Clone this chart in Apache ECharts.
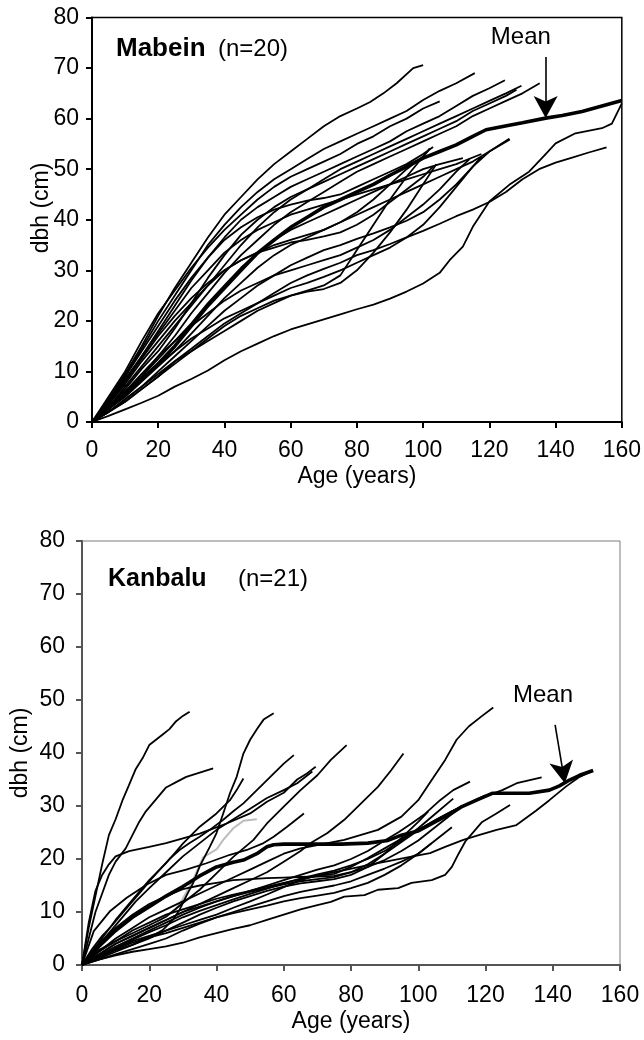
<!DOCTYPE html>
<html><head><meta charset="utf-8">
<script src="https://cdn.jsdelivr.net/npm/echarts/dist/echarts.min.js"></script>
<style>html,body{margin:0;padding:0;background:#fff}#c{width:644px;height:1040px}</style>
</head><body><div id="c"></div>
<script>
// ---------- Mabein (n=20): [age, dbh] ----------
const mab01 = [[0,0],[2,1.8],[5,4.5],[10,9.5],[15,15],[20,21],[25,26.5],[30,31.5],[35,36.5],[40,41],[45,44.5],[50,48],[55,51],[60,53.5],[65,56],[70,58.5],[75,60.5],[80,62],[84,63.3],[88,65],[92,67],[97,70],[100,70.6]];
const mab02 = [[0,0],[5,4],[10,9],[15,14.5],[20,20],[25,25],[30,30],[35,35],[40,39],[45,42.5],[50,45.5],[55,48],[60,50],[65,52],[70,54],[75,55.5],[80,57],[85,58.5],[90,60],[95,61.5],[100,63.7],[105,65.5],[110,67],[115.6,69]];
const mab03 = [[0,0],[5,5],[10,10],[15,16],[20,21.5],[25,26],[30,30.5],[35,34.5],[40,38],[45,41],[50,44],[55,46.5],[60,48.5],[65,50],[70,51.5],[75,53],[80,55],[85,56.5],[90,58.5],[95,60],[100,62],[105,63.4]];
const mab04 = [[0,0],[5,3.5],[10,8],[15,13],[20,18],[25,23],[30,28],[35,32.5],[40,36.5],[45,40],[50,42.5],[55,44.5],[60,46.5],[65,48],[70,49.5],[75,51],[80,52.5],[85,54],[90,55.5],[95,57.5],[100,59],[105,60.5],[110,62.5],[115,64.5],[120,66],[124.7,67.6]];
const mab05 = [[0,0],[5,3],[10,7],[15,11],[20,15],[25,19],[30,23],[35,27],[40,31],[45,35],[50,38.5],[55,41.5],[60,44],[65,46],[70,48],[75,50],[80,51.5],[85,53],[90,54.5],[95,56],[100,57.5],[105,59],[110,60.5],[115,62],[120,63.5],[125,65],[129.7,66.5]];
const mab06 = [[0,0],[5,3],[10,6.5],[15,10.5],[20,14],[25,18.5],[30,23.5],[35,28.5],[40,33],[45,37],[50,40],[55,42.5],[60,44.5],[65,46],[70,47.5],[75,49],[80,50.5],[85,52],[90,53.5],[95,55],[100,56.5],[105,58],[110,59.5],[115,61.5],[120,63],[125,64.5],[128.2,65.7]];
const mab07 = [[0,0],[5,2.5],[10,5.5],[15,9],[20,13],[25,17],[30,21.5],[35,25.5],[40,29.5],[45,33],[50,36],[55,39],[60,41.5],[65,43.5],[70,45.5],[75,47.5],[80,49.5],[85,51],[90,52.5],[95,54],[100,55.5],[105,57],[110,58.5],[115,60.5],[120,62],[125,63.5],[130,65],[135.2,67]];
const mab08 = [[0,0],[5,2],[10,4.5],[15,7],[20,9.5],[25,12],[30,14],[35,16],[40,18],[45,20],[50,22],[55,23.5],[60,25],[65,26],[70,27],[75,29],[80,34],[85,39],[90,44],[95,48.5],[100,52.5],[102,54.1]];
const mab09 = [[0,0],[5,4],[10,8.5],[15,13],[20,17.5],[25,22],[30,26.5],[35,30],[40,33.5],[45,36],[50,38],[55,39.5],[60,41],[65,42],[70,43],[75,44],[80,45],[85,46],[90,47],[95,48],[100,49],[105,50],[110,51],[117.6,53]];
const mab10 = [[0,0],[5,3],[10,6],[15,9],[20,12.5],[25,16],[30,19.5],[35,23.5],[40,27],[45,30.5],[50,33.5],[55,36],[60,38],[65,39.5],[70,41],[75,42.5],[80,44],[85,45.5],[90,47],[95,48.5],[100,50],[105,51],[112,52.2]];
const mab11 = [[0,0],[5,2.5],[10,5],[15,8],[20,11],[25,14],[30,17.5],[35,21],[40,24.5],[45,27.5],[50,30.5],[55,33],[60,35],[65,36.5],[70,38],[75,39.5],[80,41],[85,42.5],[90,44],[95,45.5],[100,47],[105,48.5],[110,50],[115,51.5],[120,53.5],[126.2,55.9]];
const mab12 = [[0,0],[5,2],[10,4],[15,6.5],[20,9],[25,12],[30,14.5],[35,17],[40,19.5],[45,21.5],[50,23.5],[55,25.5],[60,27.5],[65,29],[70,30.3],[75,31.5],[80,33],[85,34],[90,35.2],[95,36.5],[100,37.8],[105,39.2],[110,40.7],[115,42],[120,43.5],[125,45.5],[130,48],[135,50],[140,51.3],[145,52.3],[150,53.3],[155.4,54.3]];
const mab13 = [[0,0],[5,1.2],[10,2.5],[15,3.8],[20,5.2],[25,7],[30,8.5],[35,10.2],[40,12.2],[45,14],[50,15.5],[55,17],[60,18.3],[65,19.3],[70,20.3],[75,21.3],[80,22.3],[85,23.2],[90,24.4],[95,25.8],[100,27.4],[105,29.5],[108,32],[112,34.7],[115,38.6],[120,43.6],[126,46.9],[132,49.5],[137,53],[140,55.1],[146,57.1],[154,58.1],[157,59],[160,63]];
const mab14 = [[0,0],[5,3.5],[10,7.5],[15,12],[20,16],[25,20],[30,23.5],[35,27],[40,30],[45,32],[50,33.5],[55,34.5],[60,35.5],[65,36],[70,36.7],[75,37.5],[80,39],[85,41],[90,43.5],[95,46],[100,48.5],[103,50.5]];
const mab15 = [[0,0],[5,2],[10,4.5],[15,7],[20,10],[25,13],[30,16],[35,19],[40,22],[45,24.5],[50,27],[55,29],[60,31],[65,32.5],[70,34],[75,35],[80,36.2],[85,37.3],[90,38.5],[95,39.8],[100,41.5],[105,44],[110,47],[115,50.5],[120,53.5],[126,56]];
const mab16 = [[0,0],[5,4],[10,9],[15,14],[20,19],[25,24],[30,28.5],[35,32.5],[40,36],[45,38.5],[50,40.5],[55,42],[60,43],[65,43.8],[70,44.3],[75,45],[80,46.5],[85,48],[90,49.5],[95,51],[100,53],[103,54.4]];
const mab17 = [[0,0],[5,3],[10,6],[15,9.5],[20,13],[25,16],[30,19],[35,21.5],[40,24],[45,26],[50,27.5],[55,29],[60,30],[65,31],[70,32],[75,33],[80,34.5],[85,36],[90,38],[95,40.5],[100,43],[105,46],[110,49.5],[114,52]];
const mab18 = [[0,0],[5,2.5],[10,5.5],[15,8.5],[20,11.5],[25,14],[30,16.5],[35,18.5],[40,20.5],[45,22],[50,23.5],[55,25],[60,26.5],[65,27.5],[70,28.7],[75,30],[80,31.5],[85,33],[90,34.5],[95,36.5],[100,39],[105,42.5],[110,46.5],[115,50.5],[117.6,52.5]];
const mab19 = [[0,0],[5,2],[10,4],[15,6.5],[20,9],[25,11.5],[30,14],[35,16.5],[40,19],[45,21],[50,22.5],[55,24],[60,25],[65,25.8],[70,26.3],[75,27.5],[80,30],[85,33.5],[90,37.5],[95,42],[100,47],[104,51]];
const mab20 = [[0,0],[5,4],[10,8],[15,12.5],[20,17],[25,21],[30,24.5],[35,27.5],[40,30],[45,32],[50,33.5],[55,35],[60,36],[65,37],[70,38],[75,39.5],[80,41.5],[85,44],[90,47],[95,50],[100,52.5],[102,54]];
const mabMean = [[0,0],[5,2.8],[10,5.5],[15,8.5],[20,11.5],[25,15],[30,19],[35,23],[40,26.5],[45,30],[50,33.4],[55,36],[60,38.5],[65,40.5],[70,42.5],[75,44],[80,45.5],[85,47],[90,48.8],[95,50.5],[100,52.2],[105,53.5],[110,54.8],[115,56.5],[119,57.8],[126,58.7],[130,59.2],[137,60.1],[142,60.6],[148,61.4],[154,62.5],[160,63.6]];
const mabArrow = [[137,72.2],[137,60.1]];
const mabMeanText = [129.5,76.1];

// ---------- Kanbalu (n=21): [age, dbh] ----------
const kan01 = [[0,0],[2,7],[4,13],[6,19],[8,24.5],[10,27.5],[12,31],[14,34],[16,37],[18,39],[20,41.5],[22,42.5],[24,43.5],[26,44.5],[28,46],[30,47],[32,47.8]];
const kan02 = [[0,0],[2,5],[4,10],[6,13.5],[8,17],[10,19.5],[13,22],[15,24.5],[17,27],[19,29],[21,30.5],[23,32],[25,33.5],[28,34.5],[31,35.5],[35,36.3],[39,37.1]];
const kan03 = [[0,0],[2,8],[4,14],[6,17],[8,19],[10,20.5],[14,21.5],[20,22.3],[25,23],[30,23.9],[35,24.8],[38,25.5],[43,26.7],[50,28.6],[55,30.8],[60,32.5],[64,35],[67,36.2],[69.5,37.4]];
const kan04 = [[0,0],[5,1.5],[10,2.8],[15,3.8],[18,4.7],[21,5.5],[24,6.6],[27,8.5],[29,10.4],[31,13],[33,15.4],[35,18.6],[38,22.3],[40,24.9],[42,28.6],[44,32.4],[46,35.5],[48,39.9],[50,42.5],[52,44.5],[54,46.3],[57,47.5]];
const kan05 = [[0,0],[3,3],[6,5.5],[9,7.5],[12,9.8],[15,12],[18,14.2],[21,16.5],[23,17.9],[26,20],[29,21.7],[32,23],[35,24.2],[38,25.5],[42,27.4],[45,29],[48,30.5],[52,33],[56,35.5],[60,38],[63,39.6]];
const kan06 = [[0,0],[5,4.2],[10,8.5],[15,12.3],[20,16],[25,19.2],[30,22.9],[35,26.1],[40,28.6],[44,31.1],[46,33],[48,35.2]];
const kan07 = [[0,0],[3.5,6.4],[8.4,10.2],[13.3,12.7],[19.3,15.2],[25,17],[31,18],[37,19.2],[44,20.8],[49,21.7],[54,23],[57,24.2],[61,26.1],[66,28.6]];
const kan08 = [[0,0],[4,3],[8,6],[12,9],[16,12],[20,14.5],[25,17.5],[30,20.5],[35,23],[40,25.5],[45,27.5],[50,29.5],[55,31.5],[60,33],[64,34.3],[68.5,36.5]];
const kan09 = [[0,0],[5,2.8],[10,4.5],[15,6],[20,7.5],[25,9.1],[30,11.7],[35,14.2],[40,17.3],[45,20.4],[51,23.6],[55,26.7],[60,29.9],[65,33],[70,35.8],[74,38.7],[78.7,41.5]];
const kan10 = [[0,0],[5,2],[10,4],[15,5.5],[20,7],[25,8.5],[30,10],[35,11.5],[40,13],[45,14.5],[50,16],[55,17.5],[60,19.5],[65,21.5],[68,23],[73,24.9],[78,27.4],[83,30.5],[88,33.6],[92,36.8],[95.6,39.9]];
const kan11 = [[0,0],[5,2],[10,4],[15,5.5],[20,7],[25,8.5],[30,10],[35,11],[40,12],[45,13],[50,14],[55,15],[60,16],[65,17],[70,18],[75,18.8],[80,20],[85,21.5],[90,23.5],[94,25],[98,26.7],[102,28.5],[106.5,31.1],[110.4,33],[115.4,34.6]];
const kan12 = [[0,0],[5,1.5],[10,3.2],[15,4.8],[20,6.2],[25,7.5],[30,9],[35,10.2],[40,11.3],[45,12.4],[50,13.4],[55,14.4],[60,15.4],[65,16.3],[70,17.1],[75,17.8],[80,18.8],[85,20],[90,21.5],[95,23.5],[100,25.8],[105,28.5],[110.4,31.4]];
const kan13 = [[0,0],[5,1],[10,1.8],[15,2.5],[20,3],[25,3.5],[30,4.2],[35,5.2],[40,6],[45,6.8],[50,7.5],[55,8.5],[60,9.5],[65,10.5],[70,11.3],[74,11.9],[78,12.9],[84,13.2],[88,14.2],[94,14.5],[98,15.5],[104,16],[108,17],[110,18.5],[112,21],[114,23.3],[116,24.8],[119,27],[123,28.5],[127.3,30.2]];
const kan14 = [[0,0],[5,2.5],[10,4.5],[15,6.5],[20,8],[25,9.5],[30,10.5],[35,11.5],[40,12.5],[45,13.3],[50,14],[55,14.8],[60,15.5],[65,16.2],[70,16.8],[75,17.2],[80,18.5],[85,20.2],[90,22],[95,23.8],[100,25.5],[105,27.3],[110,29],[115,30.5],[120,31.8],[125,33],[129.3,34.3],[136.7,35.4]];
const kan15 = [[0,0],[5,2.5],[10,5],[15,7],[20,9],[25,10.5],[30,12],[35,13.5],[40,15],[45,16.5],[50,18],[55,19.5],[60,21],[65,22],[70,22.6],[78,23.6],[88,25.5],[95,28],[100,31.1],[104,34.9],[108,38.7],[111.4,42.5],[115,45],[119,47],[122.3,48.6]];
const kan16 = [[0,0],[5,1.5],[10,3],[15,4.5],[20,5.5],[25,6.5],[30,7.5],[35,8.5],[40,9.5],[45,10.8],[50,12],[55,13.3],[60,14.7],[65,16],[70,16.9],[78,17.9],[88,19.2],[97.6,20.4],[103.5,21.1],[108,22.3],[113.4,23.6],[118,24.5],[123.3,25.5],[129.2,26.4],[135,29.1],[139,31.1],[144,33.7],[148,35.5],[152,36.7]];
const kan17 = [[0,0],[5,1.8],[10,3.5],[15,5],[20,6.5],[25,8],[30,9.5],[35,10.8],[40,12],[45,13],[50,13.8],[55,14.5],[60,15.2],[65,15.8],[70,16.2],[75,16.6],[80,17.5],[85,19],[90,21],[95,23.2],[100,25.4],[105,27.3],[110,29],[115,30.5],[120,32]];
const kan18 = [[0,0],[5,1.2],[10,2.5],[15,3.8],[20,5],[25,6.5],[30,8],[35,9.5],[40,10.8],[45,12],[50,13],[55,14],[60,14.8],[65,15.4],[70,15.8],[75,16.2],[80,17],[85,18.5],[90,21],[95,24],[100,27],[103,29]];
const kan19 = [[0,0],[5,1],[10,2],[15,3],[20,4],[25,5],[30,6.5],[35,7.8],[40,9],[45,10],[50,11],[55,12],[60,13],[65,13.8],[70,14.4],[75,15],[80,15.8],[85,17],[90,18.2],[95,19.5],[100,21],[105,23.5],[110,26]];
const kan20 = [[0,0],[5,1.5],[10,3],[15,4.2],[20,5.2],[25,6],[30,7],[35,8],[40,9],[45,9.8],[50,10.5],[55,11.2],[60,12],[65,12.6],[70,13.1],[75,13.6],[80,14.5],[85,15.5],[90,17],[95,18.8],[100,21],[104,23]];
const kan21 = [[0,0],[5,4],[10,7],[15,9.5],[20,11.5],[25,13],[30,14.3],[35,15],[40,15.5],[45,16],[50,16.2],[55,16.4],[60,16.5],[65,16.6],[70,16.7],[75,16.8],[80,17.5],[85,18.5],[90,19.8],[95,21.5],[100,23.5],[105,26],[110,28.5],[113,30]];
const kanGray = [[0,0],[10,3],[20,6.5],[25,9.3],[28,10.5],[30,12.5],[33,16],[36,20.3],[40,21.8],[42,23.6],[45,25.8],[48,27.2],[52,27.5]];
const kanMean = [[0,0],[5,3.5],[10,6.5],[15,9],[20,11],[25,13],[30,14.8],[35,16.8],[40,18.5],[45,19.4],[48,19.8],[52,21],[55,22.3],[57,22.7],[60,22.8],[70,22.8],[77,22.8],[85,23],[91,23.5],[95,24.5],[100,25.3],[105,27],[110,28.7],[113,29.9],[118,31.3],[122,32.4],[128,32.4],[133,32.4],[139,33],[142,33.8],[145,34.9],[148,35.8],[152,36.7]];
const kanArrow = [[140.7,45.3],[143.6,34.3]];
const kanMeanText = [137.1,50.8];

const xTicks = {min:0, max:160, interval:20};
const yTicks = {min:0, max:80, interval:10};

const mabTrees = [mab01,mab02,mab03,mab04,mab05,mab06,mab07,mab08,mab09,mab10,mab11,mab12,mab13,mab14,mab15,mab16,mab17,mab18,mab19,mab20];
const kanTrees = [kan01,kan02,kan03,kan04,kan05,kan06,kan07,kan08,kan09,kan10,kan11,kan12,kan13,kan14,kan15,kan16,kan17,kan18,kan19,kan20,kan21];

const FONT = 'Liberation Sans, Arial, Helvetica, sans-serif';
const FS = 23;

function xAxisCfg(gi, col, nameGap, labelMargin){
  return {gridIndex:gi, type:'value', min:xTicks.min, max:xTicks.max, interval:xTicks.interval,
    axisLine:{onZero:false, lineStyle:{color:col,width:2}},
    axisTick:{length:6, lineStyle:{color:col,width:2}},
    axisLabel:{color:'#000', fontSize:FS, fontFamily:FONT, margin:labelMargin, showMinLabel:true, showMaxLabel:true},
    splitLine:{show:false},
    name:'Age (years)', nameLocation:'middle', nameGap:nameGap,
    nameTextStyle:{color:'#000', fontSize:FS, fontFamily:FONT}};
}
function yAxisCfg(gi, col, labelMargin){
  return {gridIndex:gi, type:'value', min:yTicks.min, max:yTicks.max, interval:yTicks.interval,
    axisLine:{onZero:false, lineStyle:{color:col,width:2}},
    axisTick:{length:6, lineStyle:{color:col,width:2}},
    axisLabel:{color:'#000', fontSize:FS, fontFamily:FONT, margin:labelMargin, showMinLabel:true, showMaxLabel:true},
    splitLine:{show:false}};
}

const LW = 1.8, MW = 3.6;
const series = [];
mabTrees.forEach(d => series.push({type:'line', xAxisIndex:0, yAxisIndex:0, data:d, showSymbol:false, symbol:'none',
  lineStyle:{color:'#000', width:LW}, z:2, silent:true}));
series.push({type:'line', xAxisIndex:0, yAxisIndex:0, data:mabMean, symbol:'none', lineStyle:{color:'#000', width:MW}, z:3, silent:true,
  markLine:{silent:true, symbol:['none','arrow'], symbolSize:[18,22], lineStyle:{color:'#000', width:1.6, type:'solid'}, label:{show:false},
    data:[[{coord:mabArrow[0]},{coord:mabArrow[1]}]]},
  markPoint:{symbol:'circle', symbolSize:1, itemStyle:{color:'rgba(0,0,0,0)'},
    label:{show:true, position:'inside', formatter:'Mean', color:'#000', fontSize:24, fontFamily:FONT},
    data:[{coord:mabMeanText}]}});
series.push({type:'line', xAxisIndex:1, yAxisIndex:1, data:kanGray, symbol:'none', lineStyle:{color:'#bdbdbd', width:2}, z:1, silent:true});
kanTrees.forEach(d => series.push({type:'line', xAxisIndex:1, yAxisIndex:1, data:d, showSymbol:false, symbol:'none',
  lineStyle:{color:'#000', width:LW}, z:2, silent:true}));
series.push({type:'line', xAxisIndex:1, yAxisIndex:1, data:kanMean, symbol:'none', lineStyle:{color:'#000', width:MW}, z:3, silent:true,
  markLine:{silent:true, symbol:['none','arrow'], symbolSize:[18,22], lineStyle:{color:'#000', width:1.6, type:'solid'}, label:{show:false},
    data:[[{coord:kanArrow[0]},{coord:kanArrow[1]}]]},
  markPoint:{symbol:'circle', symbolSize:1, itemStyle:{color:'rgba(0,0,0,0)'},
    label:{show:true, position:'inside', formatter:'Mean', color:'#000', fontSize:24, fontFamily:FONT},
    data:[{coord:kanMeanText}]}});

const chart = echarts.init(document.getElementById('c'), null, {renderer:'canvas'});
chart.setOption({
  animation:false,
  backgroundColor:'#fff',
  title:[
    {text:'Mabein', left:116, top:36, padding:0, textStyle:{fontSize:26, fontWeight:'bold', fontFamily:FONT, color:'#000'}},
    {text:'(n=20)', left:218, top:37, padding:0, textStyle:{fontSize:24, fontWeight:'normal', fontFamily:FONT, color:'#000'}},
    {text:'Kanbalu', left:108, top:567, padding:0, textStyle:{fontSize:25, fontWeight:'bold', fontFamily:FONT, color:'#000'}},
    {text:'(n=21)', left:238, top:567, padding:0, textStyle:{fontSize:24, fontWeight:'normal', fontFamily:FONT, color:'#000'}}
  ],
  graphic:[
    {type:'text', x:42, y:208, rotation:Math.PI/2, silent:true,
      style:{text:'dbh (cm)', fill:'#000', font:'23px Liberation Sans, Arial, sans-serif', align:'center', verticalAlign:'middle'}},
    {type:'text', x:21, y:753, rotation:Math.PI/2, silent:true,
      style:{text:'dbh (cm)', fill:'#000', font:'23px Liberation Sans, Arial, sans-serif', align:'center', verticalAlign:'middle'}}
  ],
  grid:[
    {left:92, top:17.5, width:530, height:404.5, show:true, borderColor:'#000', borderWidth:1.5, backgroundColor:'transparent'},
    {left:82, top:541, width:538, height:424, show:true, borderColor:'#7a7a7a', borderWidth:1, backgroundColor:'transparent'}
  ],
  xAxis:[xAxisCfg(0,'#000',43,17), xAxisCfg(1,'#555',45,19)],
  yAxis:[yAxisCfg(0,'#000',13), yAxisCfg(1,'#555',17)],
  series:series
});
</script></body></html>
